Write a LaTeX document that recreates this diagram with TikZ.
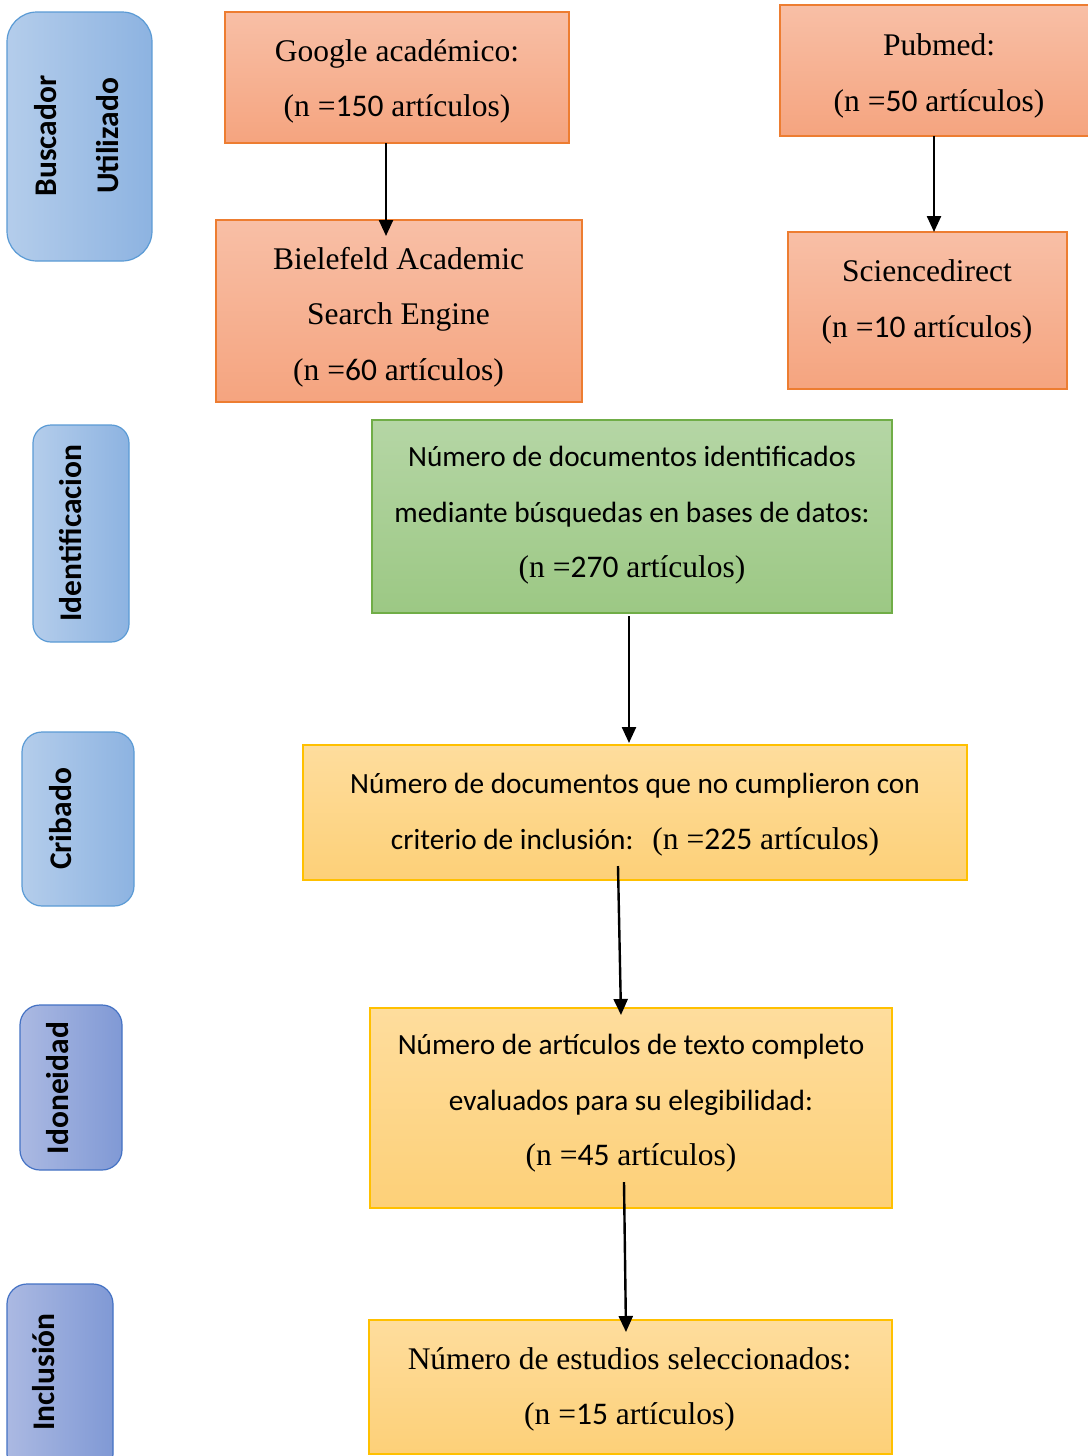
\documentclass[tikz,border=0pt]{standalone}
\usepackage{fontspec}
\setmainfont{Liberation Serif}
\newfontfamily\calfont{Carlito}
\usetikzlibrary{arrows.meta,calc}
\newcommand\nm[1]{{\calfont #1}}
\newcommand\serifsz{\rmfamily\fontsize{31.5}{55.5}\selectfont}
\newcommand\sanssz{\calfont\fontsize{29.3}{55.5}\selectfont}
\definecolor{orTop}{HTML}{F8BFA6}
\definecolor{orBot}{HTML}{F5A47F}
\definecolor{orLine}{HTML}{ED7D31}
\definecolor{grTop}{HTML}{B5D6A5}
\definecolor{grBot}{HTML}{9CC884}
\definecolor{grLine}{HTML}{70AD47}
\definecolor{yeTop}{HTML}{FEDD9D}
\definecolor{yeBot}{HTML}{FDD078}
\definecolor{yeLine}{HTML}{FFC000}
\definecolor{blL}{HTML}{B4CDEB}
\definecolor{blR}{HTML}{8DB3E1}
\definecolor{blLine}{HTML}{5B9BD5}
\definecolor{puL}{HTML}{ABB9E2}
\definecolor{puR}{HTML}{8099D5}
\definecolor{puLine}{HTML}{4472C4}
\begin{document}
\begin{tikzpicture}[x=1pt,y=-1pt,
  box/.style={rectangle, anchor=north west, inner sep=0pt, outer sep=0pt, line width=1.5pt},
  obox/.style={box, draw=orLine, top color=orTop, bottom color=orBot},
  gbox/.style={box, draw=grLine, top color=grTop, bottom color=grBot},
  ybox/.style={box, draw=yeLine, top color=yeTop, bottom color=yeBot},
  blab/.style={box, draw=blLine, line width=1.2pt, left color=blL, right color=blR},
  plab/.style={box, draw=puLine, line width=1.2pt, left color=puL, right color=puR},
  stxt/.style={align=center, inner sep=0pt, font=\serifsz},
  ctxt/.style={align=center, inner sep=0pt, font=\sanssz},
  vlab/.style={rotate=90, anchor=base, inner sep=0pt, font=\calfont\bfseries\fontsize{31.5}{36}\selectfont},
  arr/.style={line width=2.4pt, -{Triangle[width=14pt,length=16pt]}}
]
\useasboundingbox (0,0) rectangle (1087,1456);
\fill[white] (0,0) rectangle (1087,1456);

% side labels
\node[blab, rounded corners=30pt, minimum width=145pt, minimum height=249pt] (lbus) at (7,12) {};
\node[vlab] (tbus1) at (56,136) {Buscador};
\node[vlab] (tbus2) at (118,136) {Utilizado};
\node[blab, rounded corners=18pt, minimum width=96pt, minimum height=217pt] (lide) at (33,425) {};
\node[vlab] (tide) at (81,533) {Identificacion};
\node[blab, rounded corners=20pt, minimum width=112pt, minimum height=174pt] (lcri) at (22,732) {};
\node[vlab] (tcri) at (71,819) {Cribado};
\node[plab, rounded corners=20pt, minimum width=102pt, minimum height=165pt] (lido) at (20,1005) {};
\node[vlab] (tido) at (68,1088) {Idoneidad};
\node[plab, rounded corners=20pt, minimum width=106pt, minimum height=190pt] (linc) at (7,1284) {};
\node[vlab] (tinc) at (54,1372) {Inclusión};

% source boxes
\node[obox, minimum width=344pt, minimum height=131pt] (google) at (225,12) {};
\node[stxt] (tgoogle) at (397,81.5) {Google académico:\\(n =\nm{150} artículos)};
\node[obox, minimum width=366pt, minimum height=182pt] (biel) at (216,220) {};
\node[stxt] (tbiel) at (398.5,317) {Bielefeld Academic\\Search Engine\\(n =\nm{60} artículos)};
\node[obox, minimum width=320pt, minimum height=131pt] (pub) at (780,5) {};
\node[stxt] (tpub) at (939,76) {Pubmed:\\(n =\nm{50} artículos)};
\node[obox, minimum width=279pt, minimum height=157pt] (sci) at (788,232) {};
\node[stxt] (tsci) at (927,302) {Sciencedirect\\(n =\nm{10} artículos)};

% main flow
\node[gbox, minimum width=520pt, minimum height=193pt] (ident) at (372,420) {};
\node[ctxt] (tident) at (632,515.5) {Número de documentos identificados\\mediante búsquedas en bases de datos:\\{\serifsz(n =\nm{270} artículos)}};
\node[ybox, minimum width=664pt, minimum height=135pt] (crib) at (303,745) {};
\node[ctxt] (tcrib) at (635,814.5) {Número de documentos que no cumplieron con\\criterio de inclusión:\hspace{19pt}{\serifsz(n =\nm{225} artículos)}};
\node[ybox, minimum width=522pt, minimum height=200pt] (idon) at (370,1008) {};
\node[ctxt] (tidon) at (631,1103.5) {Número de artículos de texto completo\\evaluados para su elegibilidad:\\{\serifsz(n =\nm{45} artículos)}};
\node[ybox, minimum width=523pt, minimum height=134pt] (incl) at (369,1320) {};
\node[stxt] (tincl) at (629.5,1389.5) {Número de estudios seleccionados:\\(n =\nm{15} artículos)};

% arrows
\draw[arr] ($(google.south west)+(161,0)$) -- ($(biel.north west)+(170,16)$);
\draw[arr] ($(pub.south west)+(154,0)$) -- ($(sci.north west)+(146,0)$);
\draw[arr] ($(ident.south west)+(257,3)$) -- ($(crib.north west)+(326,-2)$);
\draw[arr] ($(crib.south west)+(315,-14)$) -- ($(idon.north west)+(251,7)$);
\draw[arr] ($(idon.south west)+(254,-26)$) -- ($(incl.north west)+(257,12)$);
\end{tikzpicture}
\end{document}
